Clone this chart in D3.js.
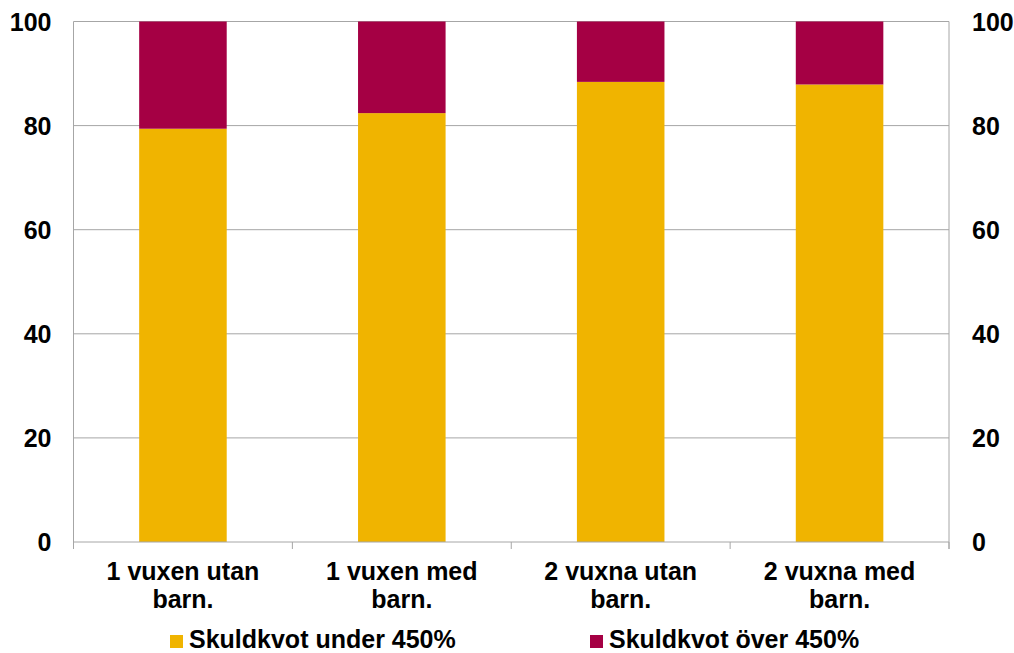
<!DOCTYPE html>
<html>
<head>
<meta charset="utf-8">
<script src="https://cdn.jsdelivr.net/npm/d3@7"></script>
<style>
  body { margin: 0; background: #fff; }
  text { font-family: "Liberation Sans", Arial, sans-serif; font-weight: bold; fill: #000; }
</style>
</head>
<body>
<div id="chart"></div>
<script>
// data
const categories = [
  ["1 vuxen utan", "barn."],
  ["1 vuxen med", "barn."],
  ["2 vuxna utan", "barn."],
  ["2 vuxna med", "barn."]
];
const under450 = [79.4, 82.4, 88.4, 87.9];
const over450 = under450.map(v => 100 - v);
const seriesNames = ["Skuldkvot under 450%", "Skuldkvot över 450%"];
const seriesColors = ["#F0B400", "#A50044"];
const yTicks = [0, 20, 40, 60, 80, 100];

const width = 1014, height = 653;
const margin = { top: 21.5, right: 65, bottom: 111, left: 73.5 };
const innerW = width - margin.left - margin.right;
const innerH = height - margin.top - margin.bottom;
const fontSize = "25px";

const svg = d3.select("#chart").append("svg")
  .attr("width", width)
  .attr("height", height);

const g = svg.append("g")
  .attr("transform", `translate(${margin.left},${margin.top})`);

const x = d3.scaleBand()
  .domain(d3.range(categories.length))
  .range([0, innerW])
  .paddingInner(0.6)
  .paddingOuter(0.3);

const y = d3.scaleLinear().domain([0, 100]).range([innerH, 0]);

// gridlines
g.selectAll(".grid")
  .data(yTicks.filter(d => d > 0))
  .join("line")
  .attr("x1", 0).attr("x2", innerW)
  .attr("y1", d => y(d)).attr("y2", d => y(d))
  .attr("stroke", "#a6a6a6")
  .attr("stroke-width", 1);

// stacked bars
const stackData = categories.map((c, i) => ({ i: i, under: under450[i], over: over450[i] }));
const stack = d3.stack().keys(["under", "over"])(stackData);

g.selectAll(".layer")
  .data(stack)
  .join("g")
  .attr("fill", (d, i) => seriesColors[i])
  .selectAll("rect")
  .data(d => d)
  .join("rect")
  .attr("x", d => x(d.data.i))
  .attr("width", x.bandwidth())
  .attr("y", d => y(d[1]))
  .attr("height", d => y(d[0]) - y(d[1]));

// axes lines
g.append("line").attr("x1", 0).attr("x2", 0).attr("y1", 0).attr("y2", innerH)
  .attr("stroke", "#a6a6a6");
g.append("line").attr("x1", innerW).attr("x2", innerW).attr("y1", 0).attr("y2", innerH + 7)
  .attr("stroke", "#a6a6a6");
g.append("line").attr("x1", 0).attr("x2", innerW).attr("y1", innerH).attr("y2", innerH)
  .attr("stroke", "#a6a6a6");

// category boundary ticks
const step = innerW / categories.length;
g.selectAll(".xtick")
  .data(d3.range(categories.length + 1))
  .join("line")
  .attr("x1", d => d * step).attr("x2", d => d * step)
  .attr("y1", innerH).attr("y2", innerH + 7)
  .attr("stroke", "#a6a6a6");

// y tick labels left and right
g.selectAll(".ylab-l")
  .data(yTicks)
  .join("text")
  .attr("x", -22)
  .attr("y", d => y(d))
  .attr("dy", "0.36em")
  .attr("text-anchor", "end")
  .style("font-size", fontSize)
  .text(d => d);

g.selectAll(".ylab-r")
  .data(yTicks)
  .join("text")
  .attr("x", innerW + 23)
  .attr("y", d => y(d))
  .attr("dy", "0.36em")
  .attr("text-anchor", "start")
  .style("font-size", fontSize)
  .text(d => d);

// category labels
const catLabels = g.selectAll(".cat")
  .data(categories)
  .join("text")
  .attr("text-anchor", "middle")
  .style("font-size", fontSize)
  .attr("transform", (d, i) => `translate(${x(i) + x.bandwidth() / 2},${innerH + 38})`);
catLabels.selectAll("tspan")
  .data(d => d)
  .join("tspan")
  .attr("x", 0)
  .attr("y", (d, i) => i * 28)
  .text(d => d);

// legend
const legendX = [170, 590];
const legend = svg.selectAll(".legend")
  .data(seriesNames)
  .join("g")
  .attr("transform", (d, i) => `translate(${legendX[i]},635)`);
legend.append("rect")
  .attr("width", 13).attr("height", 13)
  .attr("fill", (d, i) => seriesColors[i]);
legend.append("text")
  .attr("x", 19)
  .attr("y", 13)
  .style("font-size", fontSize)
  .text(d => d);
</script>
</body>
</html>
